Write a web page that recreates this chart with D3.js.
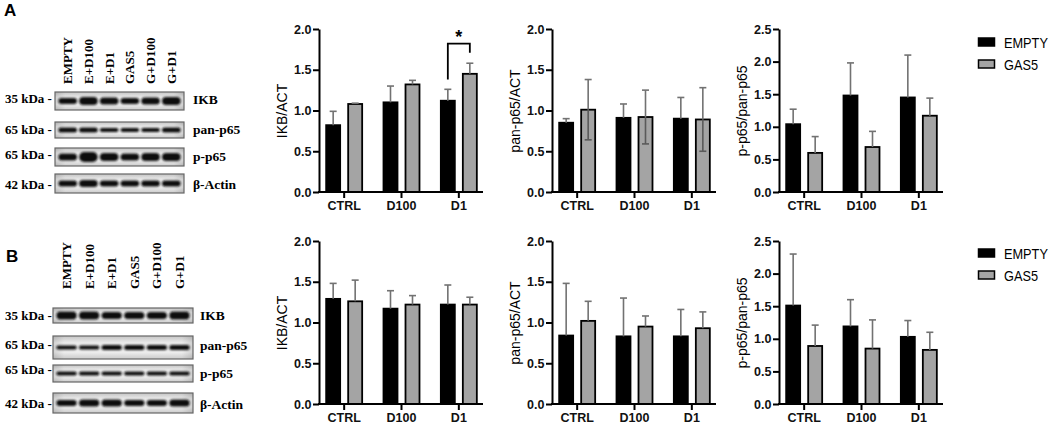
<!DOCTYPE html>
<html>
<head>
<meta charset="utf-8">
<script src="https://cdn.jsdelivr.net/npm/d3@7"></script>
<style>
  body { margin: 0; background: #fff; }
  svg { display: block; }
</style>
</head>
<body>
<svg id="fig" width="1052" height="425"></svg>
<script>
// ---- data ----
var groups = ["CTRL", "D100", "D1"];
var series = ["EMPTY", "GAS5"];
var ticks20 = [0, 0.5, 1.0, 1.5, 2.0];
var ticks25 = [0, 0.5, 1.0, 1.5, 2.0, 2.5];

// panel A
var aIkbEmpty = [0.82, 1.10, 1.12],  aIkbEmptySd = [0.17, 0.20, 0.14];
var aIkbGas5  = [1.08, 1.32, 1.45],  aIkbGas5Sd  = [0.01, 0.05, 0.13];
var aPanEmpty = [0.85, 0.91, 0.90],  aPanEmptySd = [0.05, 0.17, 0.26];
var aPanGas5  = [1.01, 0.92, 0.89],  aPanGas5Sd  = [0.37, 0.33, 0.39];
var aPhoEmpty = [1.04, 1.48, 1.45],  aPhoEmptySd = [0.23, 0.50, 0.65];
var aPhoGas5  = [0.60, 0.69, 1.17],  aPhoGas5Sd  = [0.25, 0.24, 0.27];
// significance bracket in A, IKB/ACT, group D1
var aSig = {group: "D1", top: 1.82, left: 1.38, right: 1.71, text: "*"};

// panel B
var bIkbEmpty = [1.29, 1.17, 1.22],  bIkbEmptySd = [0.19, 0.22, 0.24];
var bIkbGas5  = [1.26, 1.22, 1.22],  bIkbGas5Sd  = [0.26, 0.11, 0.09];
var bPanEmpty = [0.84, 0.83, 0.83],  bPanEmptySd = [0.64, 0.47, 0.33];
var bPanGas5  = [1.02, 0.95, 0.93],  bPanGas5Sd  = [0.24, 0.13, 0.20];
var bPhoEmpty = [1.51, 1.19, 1.03],  bPhoEmptySd = [0.79, 0.41, 0.25];
var bPhoGas5  = [0.89, 0.85, 0.83],  bPhoGas5Sd  = [0.32, 0.44, 0.27];

// western blot labels
var lanes = ["EMPTY", "E+D100", "E+D1", "GAS5", "G+D100", "G+D1"];
var proteins = ["IKB", "pan-p65", "p-p65", "\u03b2-Actin"];
var markers = ["35 kDa", "65 kDa", "65 kDa", "42 kDa"];
// band thickness per lane (appearance of the scans)
var aBands = [[6, 8, 7, 6, 7, 8], [5, 5, 4, 4, 4, 5], [7, 10, 8, 7, 8, 8], [6, 7, 6, 6, 6, 6]];
var bBands = [[8, 8, 7, 7, 7, 8], [4, 4, 5, 5, 5, 5], [4, 4, 4, 4, 4, 4], [6, 7, 7, 6, 6, 7]];

// ---- setup ----
var svg = d3.select("#fig");
var SANS = "'Liberation Sans', Arial, sans-serif";
var SERIF = "'Liberation Serif', 'Times New Roman', serif";

var defs = svg.append("defs");
defs.append("filter").attr("id", "blur")
  .attr("x", "-20%").attr("y", "-50%").attr("width", "140%").attr("height", "200%")
  .append("feGaussianBlur").attr("stdDeviation", 0.9);
var grad = defs.append("linearGradient").attr("id", "membrane")
  .attr("x1", 0).attr("y1", 0).attr("x2", 0).attr("y2", 1);
grad.append("stop").attr("offset", "0%").attr("stop-color", "#c4c4c4");
grad.append("stop").attr("offset", "30%").attr("stop-color", "#ececec");
grad.append("stop").attr("offset", "70%").attr("stop-color", "#eeeeee");
grad.append("stop").attr("offset", "100%").attr("stop-color", "#cacaca");
var gradH = defs.append("linearGradient").attr("id", "edges")
  .attr("x1", 0).attr("y1", 0).attr("x2", 1).attr("y2", 0);
gradH.append("stop").attr("offset", "0%").attr("stop-color", "#000").attr("stop-opacity", 0.12);
gradH.append("stop").attr("offset", "8%").attr("stop-color", "#000").attr("stop-opacity", 0);
gradH.append("stop").attr("offset", "92%").attr("stop-color", "#000").attr("stop-opacity", 0);
gradH.append("stop").attr("offset", "100%").attr("stop-color", "#000").attr("stop-opacity", 0.12);

/*
  WESTERN BLOTS
*/
function drawBlot(b) {
  var g = svg.append("g");
  g.append("text").text(b.letter)
    .attr("x", b.letterX).attr("y", b.letterY)
    .style("font-family", SANS).style("font-weight", "bold").style("font-size", "17px");

  var lane = d3.scaleBand().domain(lanes)
    .range([b.x0 + 3.4, b.x1 - 3.4]).paddingInner(0.1);

  g.selectAll(".lane").data(lanes).enter().append("text")
    .attr("transform", function (d) {
      return "translate(" + (lane(d) + lane.bandwidth() / 2 + 4.5) + "," + b.laneBottom + ") rotate(-90)";
    })
    .text(function (d) { return d; })
    .style("font-family", SERIF).style("font-weight", "bold").style("font-size", "13px");

  proteins.forEach(function (p, i) {
    var r = b.rows[i], mid = (r[0] + r[1]) / 2;
    g.append("rect").attr("x", b.x0).attr("y", r[0])
      .attr("width", b.x1 - b.x0).attr("height", r[1] - r[0])
      .attr("fill", "url(#membrane)");
    g.append("rect").attr("x", b.x0).attr("y", r[0])
      .attr("width", b.x1 - b.x0).attr("height", r[1] - r[0])
      .attr("fill", "url(#edges)").attr("stroke", "#666").attr("stroke-width", 1.2);

    g.selectAll(null).data(b.bands[i]).enter().append("rect")
      .attr("x", function (d, j) { return lane(lanes[j]); })
      .attr("width", lane.bandwidth())
      .attr("y", function (d) { return mid - d / 2; })
      .attr("height", function (d) { return d; })
      .attr("rx", function (d) { return d / 2; })
      .attr("fill", "#101010")
      .attr("filter", "url(#blur)");

    g.append("text").text(markers[i] + " -")
      .attr("x", 5).attr("y", b.markerY[i])
      .style("font-family", SERIF).style("font-weight", "bold").style("font-size", "13px");
    g.append("text").text(p)
      .attr("x", b.nameX).attr("y", b.nameY[i])
      .style("font-family", SERIF).style("font-weight", "bold").style("font-size", "13.5px");
  });
}

drawBlot({
  letter: "A", letterX: 4, letterY: 16,
  x0: 55, x1: 184, laneBottom: 84,
  rows: [[92, 110], [122, 138], [148, 166], [174, 193]],
  bands: aBands,
  markerY: [103, 134, 159, 189], nameX: 193, nameY: [104, 134, 161, 189]
});
drawBlot({
  letter: "B", letterX: 6, letterY: 262,
  x0: 53, x1: 193, laneBottom: 289,
  rows: [[308, 323], [336, 359], [365, 382], [393, 413]],
  bands: bBands,
  markerY: [320, 349, 374, 408], nameX: 200, nameY: [320, 350, 378, 409]
});

/*
  BAR CHARTS
*/
var charts = [
  {row: 0, col: 0, label: "IKB/ACT",       max: 2.0, ticks: ticks20, mean: [aIkbEmpty, aIkbGas5], sd: [aIkbEmptySd, aIkbGas5Sd], sig: aSig},
  {row: 0, col: 1, label: "pan-p65/ACT",   max: 2.0, ticks: ticks20, mean: [aPanEmpty, aPanGas5], sd: [aPanEmptySd, aPanGas5Sd], lowerOnGray: true},
  {row: 0, col: 2, label: "p-p65/pan-p65", max: 2.5, ticks: ticks25, mean: [aPhoEmpty, aPhoGas5], sd: [aPhoEmptySd, aPhoGas5Sd]},
  {row: 1, col: 0, label: "IKB/ACT",       max: 2.0, ticks: ticks20, mean: [bIkbEmpty, bIkbGas5], sd: [bIkbEmptySd, bIkbGas5Sd]},
  {row: 1, col: 1, label: "pan-p65/ACT",   max: 2.0, ticks: ticks20, mean: [bPanEmpty, bPanGas5], sd: [bPanEmptySd, bPanGas5Sd]},
  {row: 1, col: 2, label: "p-p65/pan-p65", max: 2.5, ticks: ticks25, mean: [bPhoEmpty, bPhoGas5], sd: [bPhoEmptySd, bPhoGas5Sd]}
];

var colX = [319, 552, 779];
var rowZero = [192, 404];
var plotH = 163, plotW = 164;
var fills = {EMPTY: "#000", GAS5: "#a4a4a4"};
var errColor = "#727272";

var sub = d3.scaleBand().domain(series).range([-18, 18]).paddingInner(0.364);

charts.forEach(function (c) {
  var x0 = colX[c.col], zero = rowZero[c.row];
  var g = svg.append("g");
  var x = d3.scaleBand().domain(groups).range([x0 - 3.5, x0 + plotW + 4.5]);
  var y = d3.scaleLinear().domain([0, c.max]).range([zero, zero - plotH]);

  var recs = [];
  series.forEach(function (s, si) {
    groups.forEach(function (gr, gi) {
      recs.push({s: s, g: gr, v: c.mean[si][gi], sd: c.sd[si][gi]});
    });
  });
  function cx(d) { return x(d.g) + x.bandwidth() / 2 + sub(d.s) + sub.bandwidth() / 2; }

  // bars
  g.selectAll(".bar").data(recs).enter().append("rect")
    .attr("x", function (d) { return x(d.g) + x.bandwidth() / 2 + sub(d.s); })
    .attr("width", sub.bandwidth())
    .attr("y", function (d) { return y(d.v); })
    .attr("height", function (d) { return zero - y(d.v); })
    .attr("fill", function (d) { return fills[d.s]; })
    .attr("stroke", "#000").attr("stroke-width", 1.8);

  // error bars
  var eb = g.selectAll(".err").data(recs).enter().append("g").attr("stroke", errColor).attr("stroke-width", 1.6);
  eb.append("line")
    .attr("x1", cx).attr("x2", cx)
    .attr("y1", function (d) { return y(d.v); })
    .attr("y2", function (d) { return y(d.v + d.sd); });
  eb.append("line")
    .attr("x1", function (d) { return cx(d) - 3.5; }).attr("x2", function (d) { return cx(d) + 3.5; })
    .attr("y1", function (d) { return y(d.v + d.sd); }).attr("y2", function (d) { return y(d.v + d.sd); });
  if (c.lowerOnGray) {
    var low = g.selectAll(".low").data(recs.filter(function (d) { return d.s === "GAS5"; }))
      .enter().append("g").attr("stroke", "#5a5a5a").attr("stroke-width", 1.6);
    low.append("line").attr("x1", cx).attr("x2", cx)
      .attr("y1", function (d) { return y(d.v); })
      .attr("y2", function (d) { return y(d.v - d.sd); });
    low.append("line")
      .attr("x1", function (d) { return cx(d) - 3.5; }).attr("x2", function (d) { return cx(d) + 3.5; })
      .attr("y1", function (d) { return y(d.v - d.sd); }).attr("y2", function (d) { return y(d.v - d.sd); });
  }

  // y axis
  var ya = g.append("g").attr("transform", "translate(" + x0 + ",0)")
    .call(d3.axisLeft(y).tickValues(c.ticks).tickFormat(d3.format(".1f")).tickSize(6).tickSizeOuter(0).tickPadding(1.5));
  ya.select(".domain").attr("stroke-width", 2);
  ya.selectAll(".tick line").attr("stroke-width", 2);
  ya.selectAll(".tick text").style("font-family", SANS).style("font-weight", "bold").style("font-size", "12.5px").attr("fill", "#111");

  // x axis
  var xa = g.append("g").attr("transform", "translate(0," + zero + ")")
    .call(d3.axisBottom(x).tickSize(6).tickSizeOuter(0).tickPadding(3));
  xa.select(".domain").remove();
  xa.append("line").attr("x1", x0 - 1).attr("x2", x0 + plotW).attr("stroke", "#000").attr("stroke-width", 2);
  xa.selectAll(".tick line").attr("stroke-width", 2);
  xa.selectAll(".tick text").style("font-family", SANS).style("font-weight", "bold").style("font-size", "12.5px").attr("fill", "#111");

  // y label
  g.append("text")
    .attr("transform", "translate(" + (x0 - 37) + "," + (zero - 81) + ") rotate(-90)")
    .attr("text-anchor", "middle").attr("dominant-baseline", "central")
    .text(c.label)
    .style("font-family", SANS).style("font-size", "14px");

  // significance
  if (c.sig) {
    var xl = cx({g: c.sig.group, s: "EMPTY"}), xr = cx({g: c.sig.group, s: "GAS5"});
    g.append("path")
      .attr("d", "M" + xl + "," + y(c.sig.left) + "V" + y(c.sig.top) + "H" + xr + "V" + y(c.sig.right))
      .attr("fill", "none").attr("stroke", "#000").attr("stroke-width", 1.8);
    g.append("text").text(c.sig.text)
      .attr("x", (xl + xr) / 2).attr("y", y(c.sig.top) - 1)
      .attr("text-anchor", "middle")
      .style("font-family", SANS).style("font-weight", "bold").style("font-size", "18px");
  }
});

// legends
[38, 249].forEach(function (top) {
  var lg = svg.append("g");
  series.forEach(function (s, i) {
    lg.append("rect").attr("x", 978.5).attr("y", top + i * 22).attr("width", 16).attr("height", 8)
      .attr("fill", fills[s]).attr("stroke", "#000").attr("stroke-width", 1.5);
    lg.append("text").text(s)
      .attr("transform", "translate(1004," + (top + i * 22 + 9.5) + ") scale(0.88,1)")
      .style("font-family", SANS).style("font-size", "14.5px");
  });
});
</script>
</body>
</html>
